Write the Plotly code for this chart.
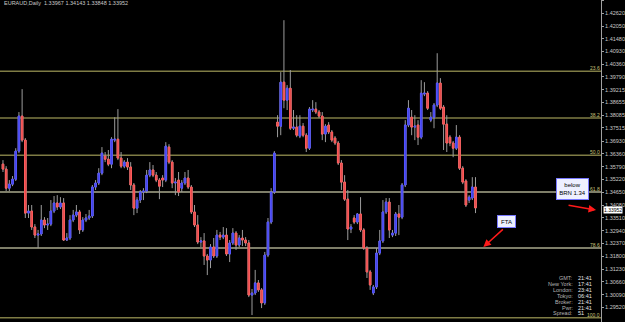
import plotly.graph_objects as go

# ---------------- data (EURAUD, Daily) ----------------
open_ = [1.3590, 1.3568, 1.3483, 1.3501, 1.3523, 1.3648, 1.3804, 1.3697, 1.3372, 1.3381,
         1.3310, 1.3274, 1.3279, 1.3341, 1.3319, 1.3323, 1.3381, 1.3417, 1.3399, 1.3417,
         1.3252, 1.3261, 1.3341, 1.3363, 1.3377, 1.3297, 1.3341, 1.3350, 1.3359, 1.3488,
         1.3506, 1.3550, 1.3626, 1.3612, 1.3590, 1.3697, 1.3701, 1.3617, 1.3581, 1.3599,
         1.3577, 1.3497, 1.3394, 1.3430, 1.3466, 1.3470, 1.3541, 1.3564, 1.3541, 1.3519,
         1.3528, 1.3519, 1.3666, 1.3599, 1.3506, 1.3519, 1.3483, 1.3506, 1.3528, 1.3488,
         1.3377, 1.3319, 1.3243, 1.3248, 1.3181, 1.3163, 1.3221, 1.3181, 1.3274, 1.3265,
         1.3274, 1.3190, 1.3239, 1.3283, 1.3230, 1.3261, 1.3252, 1.3239, 1.3007, 1.3016,
         1.3061, 1.3030, 1.2972, 1.3185, 1.3332, 1.3466, 1.3777, 1.3759, 1.3955, 1.3875,
         1.3928, 1.3750, 1.3755, 1.3715, 1.3759, 1.3719, 1.3661, 1.3831, 1.3835, 1.3822,
         1.3804, 1.3724, 1.3764, 1.3733, 1.3706, 1.3684, 1.3595, 1.3510, 1.3434, 1.3301,
         1.3350, 1.3332, 1.3368, 1.3297, 1.3216, 1.3110, 1.3016, 1.3043, 1.3194, 1.3248,
         1.3377, 1.3421, 1.3274, 1.3283, 1.3368, 1.3354, 1.3497, 1.3764, 1.3799, 1.3755,
         1.3764, 1.3710, 1.3902, 1.3906, 1.3786, 1.3799, 1.3853, 1.3951, 1.3844, 1.3768,
         1.3710, 1.3684, 1.3661, 1.3710, 1.3572, 1.3515, 1.3430, 1.3439, 1.3488]
high = [1.3608, 1.3581, 1.3519, 1.3537, 1.3661, 1.3822, 1.3924, 1.3706, 1.3408, 1.3408,
        1.3323, 1.3297, 1.3408, 1.3354, 1.3350, 1.3430, 1.3448, 1.3452, 1.3443, 1.3439,
        1.3283, 1.3363, 1.3386, 1.3408, 1.3386, 1.3354, 1.3368, 1.3386, 1.3497, 1.3519,
        1.3572, 1.3666, 1.3644, 1.3653, 1.3710, 1.3799, 1.3835, 1.3644, 1.3608, 1.3617,
        1.3599, 1.3506, 1.3443, 1.3475, 1.3483, 1.3564, 1.3599, 1.3586, 1.3555, 1.3528,
        1.3541, 1.3688, 1.3679, 1.3608, 1.3528, 1.3555, 1.3519, 1.3555, 1.3564, 1.3497,
        1.3408, 1.3363, 1.3265, 1.3283, 1.3190, 1.3234, 1.3261, 1.3297, 1.3288, 1.3310,
        1.3305, 1.3252, 1.3305, 1.3292, 1.3274, 1.3297, 1.3265, 1.3252, 1.3034, 1.3119,
        1.3074, 1.3038, 1.3199, 1.3350, 1.3483, 1.3648, 1.3808, 1.4000, 1.4231, 1.3942,
        1.4009, 1.3831, 1.3808, 1.3808, 1.3773, 1.3728, 1.3844, 1.3875, 1.3866, 1.3831,
        1.3822, 1.3768, 1.3777, 1.3742, 1.3715, 1.3693, 1.3608, 1.3541, 1.3475, 1.3323,
        1.3363, 1.3372, 1.3443, 1.3305, 1.3225, 1.3119, 1.3052, 1.3216, 1.3297, 1.3430,
        1.3439, 1.3439, 1.3297, 1.3377, 1.3408, 1.3506, 1.3786, 1.3875, 1.3831, 1.3808,
        1.3786, 1.3964, 1.3955, 1.3915, 1.3822, 1.3862, 1.4084, 1.3973, 1.3853, 1.3808,
        1.3719, 1.3693, 1.3764, 1.3719, 1.3581, 1.3523, 1.3452, 1.3532, 1.3532]
low = [1.3555, 1.3470, 1.3470, 1.3492, 1.3515, 1.3639, 1.3688, 1.3350, 1.3350, 1.3297,
       1.3261, 1.3216, 1.3270, 1.3305, 1.3297, 1.3314, 1.3372, 1.3386, 1.3390, 1.3248,
       1.3248, 1.3252, 1.3332, 1.3354, 1.3279, 1.3288, 1.3332, 1.3341, 1.3350, 1.3475,
       1.3497, 1.3541, 1.3599, 1.3581, 1.3572, 1.3688, 1.3608, 1.3572, 1.3572, 1.3564,
       1.3475, 1.3363, 1.3372, 1.3417, 1.3430, 1.3461, 1.3532, 1.3532, 1.3510, 1.3434,
       1.3488, 1.3510, 1.3590, 1.3483, 1.3452, 1.3448, 1.3466, 1.3497, 1.3479, 1.3368,
       1.3310, 1.3234, 1.3221, 1.3141, 1.3096, 1.3127, 1.3172, 1.3172, 1.3252, 1.3256,
       1.3181, 1.3154, 1.3230, 1.3208, 1.3221, 1.3225, 1.3225, 1.2998, 1.2918, 1.3007,
       1.3021, 1.2949, 1.2963, 1.3176, 1.3323, 1.3457, 1.3710, 1.3719, 1.3839, 1.3831,
       1.3742, 1.3742, 1.3710, 1.3706, 1.3710, 1.3644, 1.3653, 1.3822, 1.3813, 1.3795,
       1.3697, 1.3688, 1.3724, 1.3688, 1.3675, 1.3586, 1.3475, 1.3426, 1.3252, 1.3283,
       1.3323, 1.3323, 1.3288, 1.3208, 1.3083, 1.3030, 1.3007, 1.3034, 1.3185, 1.3239,
       1.3368, 1.3261, 1.3265, 1.3270, 1.3274, 1.3345, 1.3488, 1.3755, 1.3719, 1.3697,
       1.3675, 1.3701, 1.3893, 1.3831, 1.3777, 1.3750, 1.3844, 1.3831, 1.3653, 1.3644,
       1.3670, 1.3621, 1.3653, 1.3564, 1.3501, 1.3399, 1.3417, 1.3430, 1.3372]
close = [1.3568, 1.3483, 1.3501, 1.3523, 1.3648, 1.3804, 1.3697, 1.3372, 1.3381, 1.3310,
         1.3274, 1.3279, 1.3341, 1.3319, 1.3323, 1.3381, 1.3417, 1.3399, 1.3417, 1.3252,
         1.3261, 1.3341, 1.3363, 1.3377, 1.3297, 1.3341, 1.3350, 1.3359, 1.3488, 1.3506,
         1.3550, 1.3639, 1.3612, 1.3590, 1.3701, 1.3701, 1.3617, 1.3581, 1.3599, 1.3577,
         1.3497, 1.3394, 1.3430, 1.3466, 1.3470, 1.3541, 1.3564, 1.3541, 1.3519, 1.3492,
         1.3519, 1.3670, 1.3599, 1.3506, 1.3510, 1.3466, 1.3506, 1.3528, 1.3488, 1.3377,
         1.3319, 1.3243, 1.3248, 1.3181, 1.3163, 1.3221, 1.3181, 1.3274, 1.3265, 1.3274,
         1.3190, 1.3239, 1.3283, 1.3230, 1.3261, 1.3252, 1.3239, 1.3007, 1.3016, 1.3061,
         1.3030, 1.2972, 1.3185, 1.3332, 1.3466, 1.3639, 1.3759, 1.3955, 1.3875, 1.3928,
         1.3750, 1.3755, 1.3719, 1.3759, 1.3719, 1.3661, 1.3835, 1.3835, 1.3822, 1.3804,
         1.3724, 1.3759, 1.3733, 1.3697, 1.3684, 1.3595, 1.3510, 1.3434, 1.3301, 1.3310,
         1.3332, 1.3368, 1.3297, 1.3216, 1.3110, 1.3052, 1.3043, 1.3194, 1.3248, 1.3377,
         1.3421, 1.3297, 1.3283, 1.3368, 1.3354, 1.3497, 1.3764, 1.3839, 1.3755, 1.3759,
         1.3710, 1.3906, 1.3906, 1.3839, 1.3799, 1.3853, 1.3951, 1.3839, 1.3768, 1.3684,
         1.3684, 1.3661, 1.3710, 1.3572, 1.3510, 1.3408, 1.3443, 1.3488, 1.3395]

fib_levels = [1.4004, 1.3795, 1.3630, 1.3466, 1.3216, 1.2906]
fib_labels = ["23.6", "38.2", "50.0", "61.8", "78.6", "100.0"]
fib_colors = ["#7f7c45", "#7f7c45", "#7f7c45", "#a9a98c", "#a9a98c", "#7f7c45"]

tick_values = [1.43190, 1.42620, 1.42050, 1.41480, 1.40930, 1.40360, 1.39790, 1.39215,
               1.38655, 1.38085, 1.37515, 1.36930, 1.36360, 1.35790, 1.35220, 1.34650,
               1.34080, 1.33510, 1.32940, 1.32370, 1.31800, 1.31230, 1.30660, 1.30090,
               1.29520]
tick_labels = ["%.5f" % v for v in tick_values]

legend_text = "EURAUD,Daily  1.33967 1.34143 1.33848 1.33952"
current_price = 1.33952

clock_labels = ["GMT:", "New York:", "London:", "Tokyo:", "Broker:", "Pwr:", "Spread:"]
clock_values = ["21:41", "17:41", "23:41", "06:41", "21:41", "21:41", "51"]

# ---------------- figure ----------------
W, H = 625, 322
PW = 608  # plot width in px
x = list(range(len(close)))
body_hi = [max(o, c) for o, c in zip(open_, close)]
body_lo = [min(o, c) for o, c in zip(open_, close)]

fig = go.Figure()
# wicks (grey)
fig.add_trace(go.Candlestick(
    x=x, open=open_, high=high, low=low, close=close,
    increasing=dict(line=dict(color="#9c9c9c", width=1), fillcolor="#9c9c9c"),
    decreasing=dict(line=dict(color="#9c9c9c", width=1), fillcolor="#9c9c9c"),
    whiskerwidth=0, hoverinfo="skip", showlegend=False))
# bodies (blue / red)
fig.add_trace(go.Candlestick(
    x=x, open=open_, high=body_hi, low=body_lo, close=close,
    increasing=dict(line=dict(color="#5252ff", width=1), fillcolor="#3c3ce0"),
    decreasing=dict(line=dict(color="#ff5a5a", width=1), fillcolor="#d84646"),
    whiskerwidth=0, hoverinfo="skip", showlegend=False))

shapes = []
annotations = []
for lvl, lab, col in zip(fib_levels, fib_labels, fib_colors):
    shapes.append(dict(type="line", xref="paper", yref="y", x0=0, x1=1, y0=lvl, y1=lvl,
                       line=dict(color=col, width=1.5), layer="below"))
    annotations.append(dict(xref="paper", yref="y", x=1, y=lvl, text=lab,
                            xanchor="right", yanchor="bottom", yshift=-1, showarrow=False,
                            borderpad=0,
                            font=dict(family="Liberation Sans", size=5, color="#c8c27a")))

# legend text top-left
annotations.append(dict(xref="paper", yref="paper", x=2 / PW, y=1, yshift=2, text=legend_text,
                        xanchor="left", yanchor="top", showarrow=False,
                        font=dict(family="Liberation Sans", size=5.5, color="#c8c8c8")))

# current price box on axis
annotations.append(dict(xref="paper", yref="y", x=1, xshift=2, y=current_price, yshift=-2,
                        text="%.5f" % current_price, xanchor="left", yanchor="middle",
                        showarrow=False, bgcolor="#ffffff", borderpad=0,
                        font=dict(family="Liberation Sans", size=5, color="#000000")))

# clock / spread block
row_y = [278, 284, 290, 296, 302, 308, 313]
for ry, lab, val in zip(row_y, clock_labels, clock_values):
    annotations.append(dict(xref="paper", yref="paper", x=581 / PW, y=1 - ry / H, text=lab,
                            xanchor="right", yanchor="middle", showarrow=False, borderpad=0,
                            font=dict(family="Liberation Sans", size=5.5, color="#b4b4b4")))
    annotations.append(dict(xref="paper", yref="paper", x=584 / PW, y=1 - ry / H, text=val,
                            xanchor="left", yanchor="middle", showarrow=False, borderpad=0,
                            font=dict(family="Liberation Sans", size=5.5, color="#e6e6e6")))

# callout "below BRN 1.34"
annotations.append(dict(xref="paper", yref="paper", x=579 / PW, y=1 - 189 / H,
                        text="below<br>BRN 1.34", showarrow=False, align="center",
                        xanchor="center", yanchor="middle", width=31, height=20,
                        bgcolor="#eef0ff", bordercolor="#7878ff", borderwidth=1, borderpad=0,
                        font=dict(family="Liberation Sans", size=6, color="#000000")))
annotations.append(dict(xref="paper", yref="paper", x=603 / PW, y=1 - 210 / H, text="",
                        showarrow=True, ax=-29, ay=-5, arrowcolor="#ff1a1a", arrowwidth=1.5,
                        arrowhead=2, arrowsize=1))
# callout "FTA"
annotations.append(dict(xref="paper", yref="paper", x=512 / PW, y=1 - 221 / H,
                        text="FTA", showarrow=False, xanchor="center", yanchor="middle",
                        width=17, height=11, bgcolor="#eef0ff", bordercolor="#7878ff",
                        borderwidth=1, borderpad=0,
                        font=dict(family="Liberation Sans", size=6, color="#000000")))
annotations.append(dict(xref="paper", yref="paper", x=489 / PW, y=1 - 247 / H, text="",
                        showarrow=True, ax=21, ay=-19, arrowcolor="#ff1a1a", arrowwidth=1.5,
                        arrowhead=2, arrowsize=1))

x_first_px, step_px = 3, 3.23
fig.update_layout(
    width=W, height=H,
    margin=dict(l=0, r=W - PW, t=0, b=0),
    paper_bgcolor="#000000", plot_bgcolor="#000000",
    showlegend=False,
    shapes=shapes, annotations=annotations,
    xaxis=dict(range=[-x_first_px / step_px, (PW - x_first_px) / step_px], visible=False,
               rangeslider=dict(visible=False), fixedrange=True),
    yaxis=dict(range=[1.2887, 1.4321], side="right", showgrid=False, zeroline=False,
               showline=True, linecolor="#a0a0a0", linewidth=1,
               ticks="outside", ticklen=2, tickcolor="#a0a0a0",
               tickvals=tick_values, ticktext=tick_labels,
               tickfont=dict(family="Liberation Sans", size=5.5, color="#c8c8c8")),
)

fig.write_html("out.html")
